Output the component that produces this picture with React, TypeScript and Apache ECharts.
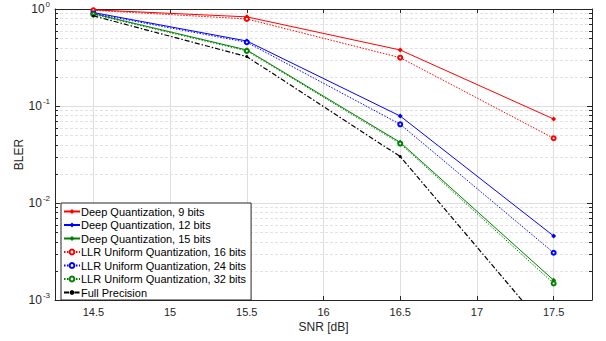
import React, { useEffect, useRef } from "react";
import * as echarts from "echarts";

const snr = [14.5, 15.5, 16.5, 17.5];
const deep9 = [0.98, 0.83, 0.378, 0.0734];
const deep12 = [0.92, 0.468, 0.0788, 0.00457];
const deep15 = [0.895, 0.378, 0.0422, 0.0016];
const llr16 = [0.97, 0.79, 0.315, 0.0465];
const llr24 = [0.9, 0.454, 0.0648, 0.00307];
const llr32 = [0.88, 0.37, 0.041, 0.00148];
const fullPrec = [0.85, 0.323, 0.0301, 0.00041];
const xTicks = [14.5, 15, 15.5, 16, 16.5, 17, 17.5];
const minorY = [2, 3, 4, 5, 6, 7, 8, 9].flatMap((m) => [m * 0.001, m * 0.01, m * 0.1]);

const X_MIN = 14.25;
const X_MAX = 17.75;
const FONT = "Liberation Sans, Arial, sans-serif";
const AXIS = "#262626";

export default function App() {
  const ref = useRef<HTMLDivElement>(null);
  useEffect(() => {
    const chart = echarts.init(ref.current!, null, { renderer: "svg" });
    const mk = (name: string, data: number[], color: string, solid: boolean) => ({
      name,
      type: "line",
      data: snr.map((x, i) => [x, data[i]]),
      symbol: solid ? "diamond" : "emptyCircle",
      symbolSize: solid ? 5 : 4,
      lineStyle: { color, width: 1, type: solid ? "solid" : [1.5, 1.5] },
      itemStyle: { color, borderWidth: solid ? 0 : 1.2 },
      z: 5,
    });
    const yFmt = (v: number) => `{b|10}{s|${Math.round(Math.log10(v))}}`;
    const rich = {
      b: { fontSize: 12, fontFamily: FONT, color: AXIS },
      s: { fontSize: 8, fontFamily: FONT, color: AXIS, padding: [0, 0, 9, 1] },
    };
    chart.setOption({
      animation: false,
      textStyle: { fontFamily: FONT },
      grid: { left: 55, top: 9, right: 14, bottom: 41, containLabel: false },
      legend: {
        orient: "vertical",
        left: 61,
        top: 203,
        itemGap: 2.5,
        itemWidth: 16,
        itemHeight: 6,
        padding: [3, 5, 2, 2],
        borderColor: "#262626",
        borderWidth: 1,
        borderRadius: 0,
        backgroundColor: "#fff",
        textStyle: { fontSize: 11, color: "#000", fontFamily: FONT, padding: [0, 0, 0, -4] },
        data: [
          "Deep Quantization, 9 bits",
          "Deep Quantization, 12 bits",
          "Deep Quantization, 15 bits",
          "LLR Uniform Quantization, 16 bits",
          "LLR Uniform Quantization, 24 bits",
          "LLR Uniform Quantization, 32 bits",
          "Full Precision",
        ],
      },
      xAxis: [
        {
          type: "value",
          min: X_MIN,
          max: X_MAX,
          interval: 0.25,
          name: "SNR [dB]",
          nameLocation: "middle",
          nameGap: 21,
          nameMoveOverlap: false,
          nameTextStyle: { fontSize: 12, color: AXIS, fontFamily: FONT },
          axisLine: { show: true, lineStyle: { color: AXIS } },
          axisTick: { inside: true, length: 4, lineStyle: { color: AXIS }, customValues: xTicks },
          axisLabel: {
            fontSize: 11,
            color: AXIS,
            margin: 6,
            customValues: xTicks,
            formatter: (v: number) => String(v),
          },
          splitLine: { show: true, lineStyle: { color: "#dedede", width: 1 }, customValues: xTicks } as any,
        },
        {
          type: "value",
          position: "top",
          min: X_MIN,
          max: X_MAX,
          interval: 0.25,
          axisLine: { show: true, lineStyle: { color: AXIS } },
          axisTick: { inside: true, length: 4, lineStyle: { color: AXIS }, customValues: xTicks },
          axisLabel: { show: false },
          splitLine: { show: false },
        },
      ],
      yAxis: [
        {
          type: "log",
          min: 0.001,
          max: 1,
          logBase: 10,
          name: "BLER",
          nameLocation: "middle",
          nameGap: 30,
          nameMoveOverlap: false,
          nameTextStyle: { fontSize: 12, color: AXIS, fontFamily: FONT },
          axisLine: { show: true, lineStyle: { color: AXIS } },
          axisTick: { inside: true, length: 5, lineStyle: { color: AXIS } },
          axisLabel: { formatter: yFmt, rich, margin: 5 },
          splitLine: { show: true, lineStyle: { color: "#dedede", width: 1 } },
          minorTick: { show: false },
        },
        {
          type: "log",
          min: 0.001,
          max: 1,
          logBase: 10,
          position: "right",
          axisLine: { show: true, lineStyle: { color: AXIS } },
          axisTick: { inside: true, length: 5, lineStyle: { color: AXIS } },
          axisLabel: { show: false },
          splitLine: { show: false },
        },
      ],
      series: [
        {
          type: "custom",
          silent: true,
          z: 1,
          data: minorY.map((v) => [X_MIN, v]),
          encode: { x: 0, y: 1 },
          renderItem: (params: any, api: any) => {
            const v = api.value(1);
            const p = api.coord([X_MIN, v]);
            const cs = params.coordSys;
            const y = Math.round(p[1]) + 0.5;
            return {
              type: "group",
              children: [
                {
                  type: "line",
                  shape: { x1: cs.x, y1: y, x2: cs.x + cs.width, y2: y },
                  style: { stroke: "#e2e2e2", lineWidth: 1, lineDash: [3, 2] },
                },
                {
                  type: "line",
                  shape: { x1: cs.x, y1: y, x2: cs.x + 3, y2: y },
                  style: { stroke: AXIS, lineWidth: 1 },
                },
                {
                  type: "line",
                  shape: { x1: cs.x + cs.width - 3, y1: y, x2: cs.x + cs.width, y2: y },
                  style: { stroke: AXIS, lineWidth: 1 },
                },
              ],
            };
          },
        },
        mk("Deep Quantization, 9 bits", deep9, "#ff0000", true),
        mk("Deep Quantization, 12 bits", deep12, "#0000ff", true),
        mk("Deep Quantization, 15 bits", deep15, "#008000", true),
        mk("LLR Uniform Quantization, 16 bits", llr16, "#ff0000", false),
        mk("LLR Uniform Quantization, 24 bits", llr24, "#0000ff", false),
        mk("LLR Uniform Quantization, 32 bits", llr32, "#008000", false),
        {
          name: "Full Precision",
          type: "line",
          data: snr.map((x, i) => [x, fullPrec[i]]),
          symbol: "circle",
          symbolSize: 3,
          lineStyle: { color: "#000", width: 1.2, type: [5, 2, 1.5, 2] },
          itemStyle: { color: "#000" },
          z: 5,
        },
      ],
    });
    return () => chart.dispose();
  }, []);
  return (
    <div
      ref={ref}
      style={{ position: "absolute", left: 0, top: 0, width: 606, height: 341 }}
    />
  );
}
